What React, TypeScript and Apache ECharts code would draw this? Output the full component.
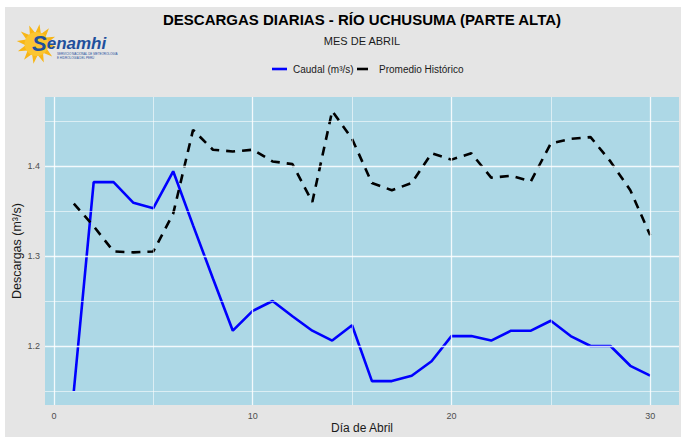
import React, { useEffect, useRef } from "react";
import * as echarts from "echarts";

const days = [1, 2, 3, 4, 5, 6, 7, 8, 9, 10, 11, 12, 13, 14, 15, 16, 17, 18, 19, 20, 21, 22, 23, 24, 25, 26, 27, 28, 29, 30];
const caudal = [1.150, 1.382, 1.382, 1.359, 1.353, 1.394, 1.334, 1.275, 1.217, 1.239, 1.250, 1.233, 1.217, 1.206, 1.223, 1.161, 1.161, 1.167, 1.183, 1.211, 1.211, 1.206, 1.217, 1.217, 1.228, 1.211, 1.200, 1.200, 1.178, 1.167];
const promedio = [1.358, 1.333, 1.305, 1.304, 1.305, 1.347, 1.440, 1.418, 1.416, 1.418, 1.405, 1.402, 1.360, 1.461, 1.430, 1.381, 1.373, 1.381, 1.414, 1.407, 1.414, 1.387, 1.389, 1.383, 1.425, 1.430, 1.432, 1.405, 1.373, 1.323];

const xMajor = [0, 10, 20, 30];
const xMinor = [5, 15, 25];
const yMajor = [1.2, 1.3, 1.4];
const yMinor = [1.15, 1.25, 1.35, 1.45];

const TITLE = "DESCARGAS DIARIAS - RÍO UCHUSUMA (PARTE ALTA)";
const SUBTITLE = "MES DE ABRIL";
const NAME_CAUDAL = "Caudal (m³/s)";
const NAME_PROM = "Promedio Histórico";

const FONT = "'Liberation Sans', Arial, sans-serif";

export default function App() {
  const ref = useRef<HTMLDivElement>(null);

  useEffect(() => {
    if (!ref.current) return;
    const chart = echarts.init(ref.current, undefined, { renderer: "svg" });

    const xLo = Math.min(...days), xHi = Math.max(...days);
    const xPad = 0.05 * (xHi - xLo);
    const allY = caudal.concat(promedio);
    const yLo = Math.min(...allY), yHi = Math.max(...allY);
    const yPad = 0.05 * (yHi - yLo);

    const gridMajor = { color: "rgba(255,255,255,0.85)", width: 1.3, type: "solid" as const };
    const gridMinor = { color: "rgba(255,255,255,0.7)", width: 0.8, type: "solid" as const };

    // Sun logo rays (decoration)
    const cx = 31.5, cy = 37;
    const rays = 12;
    const sunPts: number[][] = [];
    for (let i = 0; i < rays * 2; i++) {
      const r = i % 2 === 0 ? 20 : 11;
      const a = (Math.PI * i) / rays - Math.PI / 2 + 0.15;
      sunPts.push([cx + r * Math.cos(a), cy + r * Math.sin(a)]);
    }

    chart.setOption({
      animation: false,
      backgroundColor: "#e5e5e5",
      textStyle: { fontFamily: FONT },
      grid: {
        left: 40,
        right: 2,
        top: 90,
        bottom: 32,
        show: true,
        backgroundColor: "#add8e6",
        borderWidth: 0,
        containLabel: false,
        outerBoundsMode: "none",
      },
      xAxis: {
        type: "value",
        min: xLo - xPad,
        max: xHi + xPad,
        axisLine: { show: false },
        axisTick: { show: false },
        splitLine: { show: false },
        axisLabel: {
          customValues: xMajor,
          fontSize: 9,
          color: "#4d4d4d",
          margin: 6,
          fontFamily: FONT,
        },
        name: "Día de Abril",
        nameLocation: "middle",
        nameGap: 17,
        nameMoveOverlap: false,
        nameTextStyle: { fontSize: 12, color: "#1a1a1a", fontFamily: FONT },
      },
      yAxis: {
        type: "value",
        min: yLo - yPad,
        max: yHi + yPad,
        axisLine: { show: false },
        axisTick: { show: false },
        splitLine: { show: false },
        axisLabel: {
          customValues: yMajor,
          formatter: (v: number) => v.toFixed(1),
          fontSize: 9,
          color: "#4d4d4d",
          margin: 5,
          fontFamily: FONT,
        },
        name: "Descargas (m³/s)",
        nameLocation: "middle",
        nameGap: 22,
        nameMoveOverlap: false,
        nameTextStyle: { fontSize: 12.5, color: "#1a1a1a", fontFamily: FONT },
      },
      series: [
        {
          type: "line",
          name: "grid",
          data: [],
          z: 1,
          silent: true,
          markLine: {
            silent: true,
            symbol: ["none", "none"],
            label: { show: false },
            animation: false,
            data: [
              ...xMinor.map((v) => ({ xAxis: v, lineStyle: gridMinor })),
              ...yMinor.map((v) => ({ yAxis: v, lineStyle: gridMinor })),
              ...xMajor.map((v) => ({ xAxis: v, lineStyle: gridMajor })),
              ...yMajor.map((v) => ({ yAxis: v, lineStyle: gridMajor })),
            ],
          },
        },
        {
          type: "line",
          name: NAME_CAUDAL,
          data: days.map((d, i) => [d, caudal[i]]),
          showSymbol: false,
          symbol: "none",
          z: 3,
          lineStyle: { color: "#0000ff", width: 2.6 },
        },
        {
          type: "line",
          name: NAME_PROM,
          data: days.map((d, i) => [d, promedio[i]]),
          showSymbol: false,
          symbol: "none",
          z: 3,
          lineStyle: { color: "#000000", width: 2.6, type: [9, 7] },
        },
      ],
      graphic: [
        {
          type: "text",
          x: 357,
          y: 12,
          style: {
            text: TITLE,
            fontSize: 15,
            fontWeight: "bold",
            fontFamily: FONT,
            fill: "#000",
            textAlign: "center",
            textVerticalAlign: "middle",
          },
        },
        {
          type: "text",
          x: 357,
          y: 33.5,
          style: {
            text: SUBTITLE,
            fontSize: 11,
            fontFamily: FONT,
            fill: "#1a1a1a",
            textAlign: "center",
            textVerticalAlign: "middle",
          },
        },
        {
          type: "line",
          shape: { x1: 267, y1: 62, x2: 282, y2: 62 },
          style: { stroke: "#0000ff", lineWidth: 2.6 },
        },
        {
          type: "text",
          x: 288,
          y: 62,
          style: {
            text: NAME_CAUDAL,
            fontSize: 10,
            fontFamily: FONT,
            fill: "#1a1a1a",
            textVerticalAlign: "middle",
          },
        },
        {
          type: "line",
          shape: { x1: 352, y1: 62, x2: 363, y2: 62 },
          style: { stroke: "#000", lineWidth: 2.6 },
        },
        {
          type: "text",
          x: 374,
          y: 62,
          style: {
            text: NAME_PROM,
            fontSize: 10,
            fontFamily: FONT,
            fill: "#1a1a1a",
            textVerticalAlign: "middle",
          },
        },
        // logo
        {
          type: "polygon",
          shape: { points: sunPts },
          style: { fill: "#f8b617" },
        },
        {
          type: "circle",
          shape: { cx, cy, r: 12 },
          style: { fill: "#fbc531" },
        },
        {
          type: "text",
          x: 27,
          y: 36,
          style: {
            text: "{s|S}{r|enamhi}",
            fontFamily: FONT,
            fontWeight: "bold",
            fontStyle: "italic",
            fill: "#1f4f9c",
            textVerticalAlign: "middle",
            rich: {
              s: { fontSize: 22, lineHeight: 15, fontWeight: "bold", fontStyle: "italic", fill: "#1f4f9c", fontFamily: FONT },
              r: { fontSize: 17, lineHeight: 15, fontWeight: "bold", fontStyle: "italic", fill: "#1f4f9c", fontFamily: FONT },
            },
          },
        },
        {
          type: "text",
          x: 52,
          y: 45,
          style: {
            text: "SERVICIO NACIONAL DE METEOROLOGÍA\nE HIDROLOGÍA DEL PERÚ",
            fontSize: 3,
            lineHeight: 3.5,
            fontFamily: FONT,
            fill: "#1f4f9c",
          },
        },
      ],
    });

    return () => chart.dispose();
  }, []);

  return (
    <div style={{ position: "fixed", left: 0, top: 0, width: 681, height: 437, background: "#fff" }}>
      <div ref={ref} style={{ position: "absolute", left: 5, top: 7, width: 676, height: 430 }} />
    </div>
  );
}
